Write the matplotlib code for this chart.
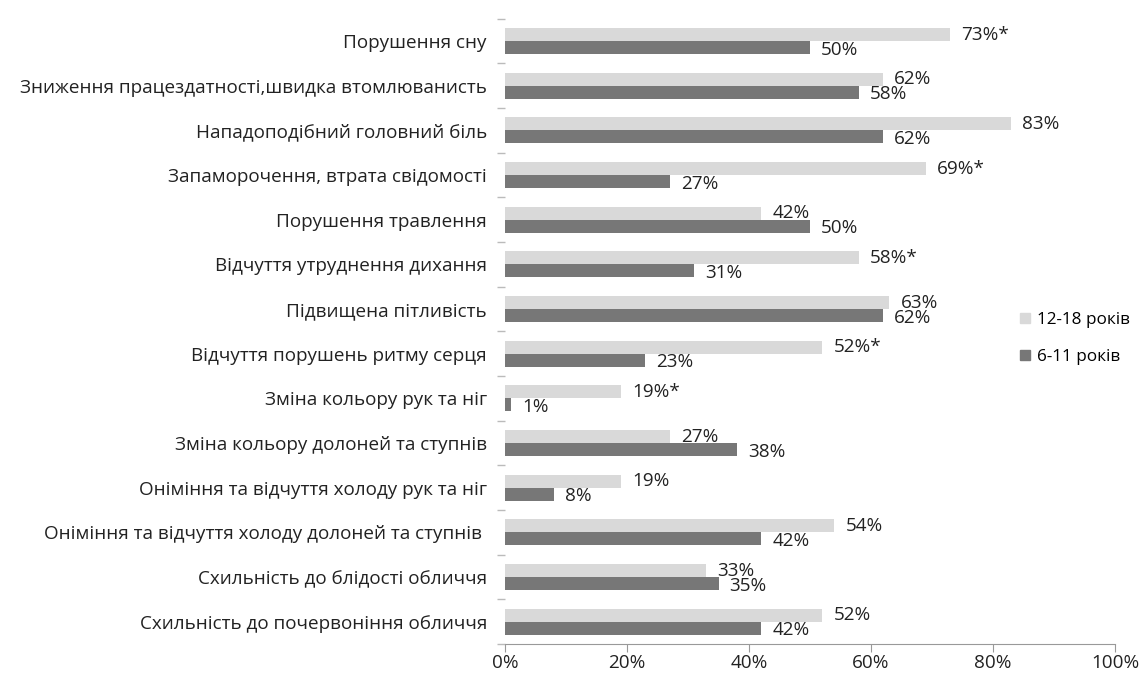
import numpy as np
import matplotlib.pyplot as plt
from matplotlib.patches import Patch

plt.rcParams['font.family'] = ['Open Sans', 'DejaVu Sans']

# симптоми (згори донизу)
symptoms = [
    'Порушення сну',
    'Зниження працездатності,швидка втомлюванисть',
    'Нападоподібний головний біль',
    'Запаморочення, втрата свідомості',
    'Порушення травлення',
    'Відчуття утруднення дихання',
    'Підвищена пітливість',
    'Відчуття порушень ритму серця',
    'Зміна кольору рук та ніг',
    'Зміна кольору долоней та ступнів',
    'Оніміння та відчуття холоду рук та ніг',
    'Оніміння та відчуття холоду долоней та ступнів ',
    'Схильність до блідості обличчя',
    'Схильність до почервоніння обличчя',
]
teen = [73, 62, 83, 69, 42, 58, 63, 52, 19, 27, 19, 54, 33, 52]      # 12-18 років
child = [50, 58, 62, 27, 50, 31, 62, 23, 1, 38, 8, 42, 35, 42]      # 6-11 років
teen_mark = ['*', '', '', '*', '', '*', '', '*', '*', '', '', '', '', '']
x_ticks = [0, 20, 40, 60, 80, 100]

fig = plt.figure(figsize=(11.42, 6.77), dpi=100)
ax = fig.add_axes([0.4422, 0.0487, 0.5342, 0.9237])

n = len(symptoms)
y = np.arange(n)
h = 0.29
c_light = '#d9d9d9'
c_dark = '#777777'
txt = '#222222'
fs = 13.6

ax.barh(y - h / 2, teen, height=h, color=c_light)
ax.barh(y + h / 2, child, height=h, color=c_dark)

for i in range(n):
    ax.annotate(f'{teen[i]}%{teen_mark[i]}', (teen[i], y[i] - h / 2),
                xytext=(8, 0), textcoords='offset points',
                va='center', ha='left', fontsize=fs, color=txt)
    ax.annotate(f'{child[i]}%', (child[i], y[i] + h / 2),
                xytext=(8, -1.5), textcoords='offset points',
                va='center', ha='left', fontsize=fs, color=txt)

ax.set_ylim(n - 0.5, -0.5)
ax.set_xlim(0, 100)
ax.set_yticks(y)
ax.set_yticklabels(symptoms, fontsize=fs, color=txt)
ax.set_yticks(np.arange(n + 1) - 0.5, minor=True)
ax.tick_params(axis='y', which='major', length=0, pad=13)
ax.tick_params(axis='y', which='minor', length=6, color='#bbbbbb', width=1)

ax.set_xticks(x_ticks)
ax.set_xticklabels([f'{v}%' for v in x_ticks], fontsize=fs, color=txt)
ax.tick_params(axis='x', length=6, color='#999999', pad=1)

for s in ['top', 'right', 'left']:
    ax.spines[s].set_visible(False)
ax.spines['bottom'].set_color('#999999')

handles = [Patch(color=c_light, label='12-18 років'),
           Patch(color=c_dark, label='6-11 років')]
fig.legend(handles=handles, loc='center left', bbox_to_anchor=(0.88, 0.5),
           frameon=False, fontsize=12.3, handlelength=0.55, handleheight=0.55,
           handletextpad=0.4, labelspacing=1.2)

fig.savefig('out.png', dpi=100)
